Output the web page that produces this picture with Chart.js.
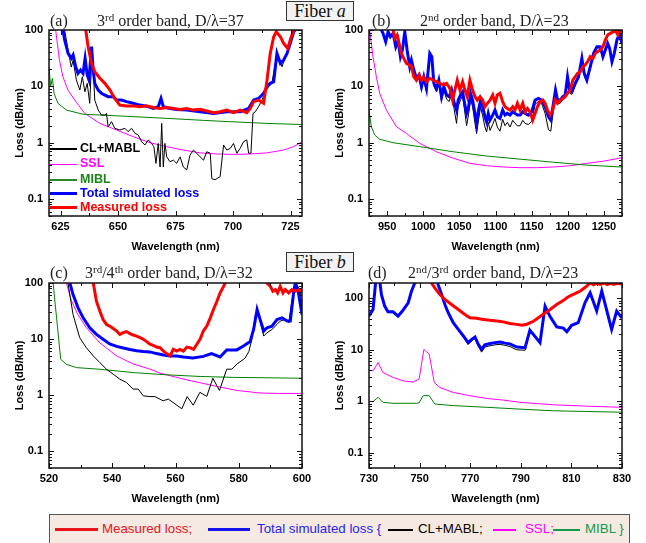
<!DOCTYPE html>
<html>
<head>
<meta charset="utf-8">
<script src="https://cdn.jsdelivr.net/npm/chart.js@4.4.1/dist/chart.umd.min.js"></script>
<style>
  body { margin: 0; }
  #page { position: relative; width: 646px; height: 543px; background: #fff; overflow: hidden; font-family: "Liberation Sans", Arial, sans-serif; }
  canvas { position: absolute; }
  .ttl { position: absolute; font-family: "Liberation Serif", "Times New Roman", serif; font-size: 16px; line-height: 16px; white-space: nowrap; color: #222; }
  .ttl sup { font-size: 11px; vertical-align: 5px; line-height: 0; }
  .fiber { position: absolute; width: 66px; height: 18px; border: 1px solid #333; background: #f2f2f2; font-family: "Liberation Serif", "Times New Roman", serif; font-size: 18px; line-height: 18px; text-align: center; color: #111; }
  .ln { position: absolute; }
  .lt { position: absolute; white-space: nowrap; }
  .il { font-weight: bold; font-size: 12.5px; line-height: 15px; }
  .bl { font-size: 13.3px; line-height: 16px; }
  #legbox { position: absolute; left: 49px; top: 514px; width: 579px; height: 40px; border: 1.5px solid #555; background: #f6e9e2; }
</style>
</head>
<body>
<div id="page">
  <canvas id="ca" width="320" height="260" style="left:0;top:0"></canvas>
  <canvas id="cb" width="320" height="260" style="left:320px;top:0"></canvas>
  <canvas id="cc" width="320" height="260" style="left:0;top:252px"></canvas>
  <canvas id="cd" width="320" height="260" style="left:320px;top:252px"></canvas>

  <div class="ttl" style="left:50px;top:13px">(a)</div>
  <div class="ttl" style="left:97px;top:13px">3<sup>rd</sup> order band, D/λ=37</div>
  <div class="ttl" style="left:372px;top:13px">(b)</div>
  <div class="ttl" style="left:420px;top:13px">2<sup>nd</sup> order band, D/λ=23</div>
  <div class="ttl" style="left:50px;top:265px">(c)</div>
  <div class="ttl" style="left:85px;top:265px">3<sup>rd</sup>/4<sup>th</sup> order band, D/λ=32</div>
  <div class="ttl" style="left:368px;top:265px">(d)</div>
  <div class="ttl" style="left:408px;top:265px">2<sup>nd</sup>/3<sup>rd</sup> order band, D/λ=23</div>

  <div class="fiber" style="left:286px;top:1px">Fiber <i>a</i></div>
  <div class="fiber" style="left:286px;top:252px">Fiber <i>b</i></div>

  <!-- legend inside panel (a) -->
  <div class="ln" style="left:50px;top:148px;width:27px;height:2px;background:#000"></div>
  <div class="lt il" style="left:80px;top:141px;color:#000">CL+MABL</div>
  <div class="ln" style="left:50px;top:164px;width:27px;height:1px;background:#ff00ff"></div>
  <div class="lt il" style="left:80px;top:156px;color:#ff00ff">SSL</div>
  <div class="ln" style="left:50px;top:179px;width:27px;height:1.5px;background:#2a8a2a"></div>
  <div class="lt il" style="left:80px;top:171.5px;color:#1a861a">MIBL</div>
  <div class="ln" style="left:50px;top:192px;width:27px;height:3px;background:#0000ff"></div>
  <div class="lt il" style="left:80px;top:186px;color:#0000ff">Total simulated loss</div>
  <div class="ln" style="left:50px;top:206px;width:27px;height:3px;background:#ff0000"></div>
  <div class="lt il" style="left:80px;top:200px;color:#ff0000">Measured loss</div>

  <!-- bottom legend -->
  <div id="legbox"></div>
  <div class="ln" style="left:55px;top:528px;width:43px;height:3px;background:#e8131b"></div>
  <div class="lt bl" style="left:102px;top:521px;color:#e8131b">Measured loss;</div>
  <div class="ln" style="left:208px;top:528px;width:42px;height:3px;background:#1414f0"></div>
  <div class="lt bl" style="left:257px;top:521px;color:#2424f0">Total simulated loss {</div>
  <div class="ln" style="left:388px;top:529px;width:25px;height:2px;background:#000"></div>
  <div class="lt bl" style="left:418px;top:521px;color:#000">CL+MABL;</div>
  <div class="ln" style="left:493px;top:529px;width:23px;height:2px;background:#ff00ff"></div>
  <div class="lt bl" style="left:525px;top:521px;color:#ff00ff">SSL;</div>
  <div class="ln" style="left:553px;top:529px;width:27px;height:2px;background:#139a48"></div>
  <div class="lt bl" style="left:585px;top:521px;color:#139a48">MIBL }</div>
</div>

<script>
// ---- data: [wavelength (nm), loss (dB/km)] ----

// (a) Fiber a, 3rd order band
const measuredA = [[634.5,200],[636.0,100],[637.0,50.6],[638.5,25.6],[639.9,18.2],[642.1,13.9],[644.3,11.3],[646.5,8.6],[648.6,6.1],[650.8,4.65],[653.7,4.5],[656.6,4.5],[659.5,4.35],[662.4,4.5],[665.3,4.2],[668.3,4.06],[671.2,4.2],[674.1,4.06],[677.0,3.9],[679.9,4.06],[682.8,3.79],[685.7,3.9],[688.6,3.65],[691.5,3.4],[694.4,3.54],[697.3,3.79],[700.2,3.4],[703.1,3.79],[706.0,3.4],[707.5,4.06],[709.0,5.35],[711.1,5.7],[713.3,5.0],[714.8,12.9],[716.2,38.5],[717.7,76],[718.8,93],[720.6,76],[722.0,58],[723.8,47.3],[724.9,66.5],[726.4,100],[727.8,130]];
const totalA = [[625.3,200],[626.1,100],[626.8,66.5],[628.3,38.5],[629.7,31.4],[630.5,36],[631.6,22.3],[632.6,17],[633.7,19.5],[634.8,17],[635.7,31.4],[636.6,15.9],[637.4,12.9],[638.5,50.6],[639.2,19.5],[639.9,11.3],[641.4,8.6],[642.8,7.5],[644.3,7.0],[645.7,6.55],[647.9,6.55],[649.4,5.7],[651.5,5.7],[653.7,5.35],[656.6,5.0],[659.5,4.65],[662.4,4.45],[665.3,4.06],[667.5,4.35],[668.7,6.1],[669.7,4.35],[672.6,4.06],[675.5,3.9],[679.9,3.79],[685.7,3.54],[691.5,3.31],[697.3,3.54],[703.1,3.54],[706.8,4.06],[709.0,5.7],[711.1,6.1],[713.3,7.5],[714.8,9.9],[716.2,11.3],[717.7,12.1],[719.1,38.5],[720.6,25.6],[722.0,29.3],[723.5,38.5],[724.9,58],[726.4,93],[727.0,100],[727.8,120]];
const clmablA = [[626.3,200],[626.8,100],[628.3,44],[629.0,31],[629.7,22],[630.5,29],[631.9,13],[633.4,8.6],[634.5,14.8],[635.6,8.0],[636.6,11.3],[637.7,5.0],[638.8,50],[639.9,5.7],[641.4,3.8],[642.8,3.1],[644.3,3.1],[645.0,3.3],[645.7,1.9],[647.2,2.36],[648.6,1.8],[650.8,1.68],[653.0,1.8],[654.4,1.57],[655.9,1.8],[657.4,1.46],[658.8,1.37],[660.3,1.04],[661.7,0.91],[663.2,1.12],[664.6,0.97],[665.6,0.85],[666.5,0.43],[667.5,0.97],[668.3,0.37],[669.0,2.2],[669.7,0.37],[670.4,0.97],[671.2,0.56],[672.6,0.46],[674.1,0.49],[675.5,0.43],[677.0,0.56],[678.4,0.37],[679.9,0.33],[681.3,0.60],[682.8,0.74],[684.2,0.65],[685.7,0.56],[687.2,0.49],[688.6,0.69],[690.1,0.65],[690.8,0.23],[692.2,0.22],[694.4,0.25],[695.9,0.91],[697.3,0.74],[698.8,0.79],[700.2,0.97],[701.7,0.65],[703.1,0.79],[704.6,1.04],[706.0,1.12],[706.8,0.65],[707.8,0.65],[708.7,3.3],[709.7,3.54],[711.1,4.35],[712.6,5.7],[714.0,8.0],[715.5,9.9],[716.9,11.3],[718.4,25.6],[719.9,33.6],[721.3,22.3],[722.8,33.6],[724.2,50.6],[725.7,87],[726.4,100],[727.8,130]];
const miblA = [[620.0,22.3],[620.7,9.9],[621.5,13.9],[622.2,7.5],[623.9,5.0],[627.6,3.79],[634.8,3.2],[649.4,3.0],[671.2,2.7],[693.0,2.42],[714.8,2.2],[730.0,2.1]];
const sslA = [[622.3,200],[622.9,100],[624.5,30],[626.0,15],[628.3,8.5],[631.9,5.2],[635.6,3.3],[642.1,2.2],[649.4,1.68],[656.6,1.28],[663.9,1.0],[671.2,0.85],[678.4,0.74],[685.7,0.66],[693.0,0.63],[700.2,0.62],[707.5,0.63],[714.8,0.66],[722.0,0.74],[726.4,0.85],[730.0,1.04]];

// (b) Fiber a, 2nd order band
const measuredB = [[956.0,130],[958.3,100],[960.6,71],[963.8,81.5],[966.6,58],[969.8,38.5],[973.1,31.4],[976.8,25.6],[980.5,23.9],[983.7,22.3],[987.0,14.8],[990.6,12.9],[994.3,15.9],[997.6,12.9],[1000.8,14.8],[1004.5,12.1],[1009.1,13.9],[1013.8,12.9],[1018.4,12.1],[1023.0,11.3],[1027.6,10.6],[1032.3,11.3],[1036.9,9.2],[1040.6,5.7],[1043.8,8.6],[1047.1,12.9],[1050.8,8.6],[1054.5,12.1],[1057.7,8.6],[1060.9,6.55],[1064.6,12.9],[1068.3,8.6],[1071.6,6.55],[1074.8,5.7],[1078.5,6.55],[1082.2,5.7],[1085.4,4.35],[1088.7,5.0],[1092.4,5.7],[1096.1,7.0],[1099.3,5.0],[1102.5,7.0],[1106.2,7.5],[1109.9,5.35],[1113.2,4.35],[1116.4,4.06],[1120.1,3.79],[1123.8,4.35],[1127.0,3.79],[1130.3,5.0],[1134.0,3.79],[1137.7,5.0],[1140.9,3.54],[1144.1,4.06],[1147.8,3.54],[1151.5,2.52],[1154.8,3.31],[1158.0,4.35],[1161.7,5.35],[1165.4,5.7],[1168.6,5.0],[1171.9,3.79],[1175.6,3.09],[1179.3,3.79],[1182.5,5.7],[1185.8,5.0],[1189.5,5.7],[1193.2,6.1],[1196.4,6.55],[1199.6,7.5],[1203.3,8.6],[1207.0,12.9],[1210.2,14.8],[1213.5,17],[1217.2,18.2],[1220.9,22.3],[1224.1,23.9],[1227.4,27.4],[1231.1,33.6],[1234.8,31.4],[1238.0,38.5],[1241.2,41.3],[1244.9,44.2],[1248.6,50.6],[1251.9,66.5],[1255.1,81.5],[1258.8,87],[1262.5,93],[1265.7,100],[1269.4,81.5],[1272.7,100],[1275.0,110]];
const totalB = [[940.0,130],[942.1,100],[944.4,87],[948.1,62],[951.4,93],[954.6,76],[958.3,87],[962.0,50.6],[965.2,66.5],[968.5,33.6],[971.2,44.2],[974.5,93],[977.7,44.2],[981.4,22.3],[983.7,29.3],[987.0,19.5],[990.6,13.9],[994.3,15.9],[997.6,9.9],[1000.8,14.8],[1004.5,9.2],[1009.1,38.5],[1011.9,33.6],[1014.7,11.3],[1018.4,9.2],[1021.6,12.9],[1025.3,6.55],[1028.6,9.9],[1032.3,7.0],[1036.0,6.55],[1039.2,8.6],[1042.4,5.35],[1046.1,3.79],[1048.4,5.7],[1051.7,7.0],[1054.5,8.0],[1057.2,5.0],[1060.0,3.31],[1062.8,4.35],[1065.5,7.5],[1068.3,5.7],[1071.6,3.31],[1073.9,2.2],[1076.6,3.79],[1079.4,5.7],[1082.2,4.35],[1085.4,2.89],[1087.7,2.36],[1090.0,3.31],[1092.4,2.52],[1096.1,3.09],[1099.3,3.79],[1102.5,2.89],[1106.2,2.7],[1109.9,3.79],[1113.2,3.09],[1116.4,3.31],[1120.1,3.09],[1123.8,3.54],[1127.0,3.31],[1130.3,3.09],[1134.0,3.09],[1137.7,3.54],[1140.9,3.31],[1145.5,3.09],[1150.2,3.54],[1154.8,5.7],[1159.4,6.1],[1164.0,5.7],[1168.6,4.35],[1173.3,2.89],[1176.5,2.52],[1180.2,5.0],[1183.0,8.6],[1185.8,5.7],[1189.5,5.7],[1193.2,6.55],[1196.4,7.0],[1199.6,14.8],[1202.4,8.6],[1205.6,8.0],[1210.2,11.3],[1214.9,14.8],[1219.5,31.4],[1222.7,17],[1226.4,12.9],[1231.1,22.3],[1235.7,38.5],[1240.3,50.6],[1244.9,50.6],[1248.6,33.6],[1251.9,44.2],[1255.1,58],[1257.9,47.3],[1261.1,27.4],[1264.3,38.5],[1268.0,66.5],[1271.7,87],[1275.0,58]];
const clmablB = [[940.0,130],[942.1,100],[944.4,85],[948.1,58],[951.4,90],[954.6,72],[958.3,84],[962.0,47],[965.2,63],[968.5,31],[971.2,41],[974.5,90],[977.7,41],[981.4,20],[983.7,27],[987.0,17.5],[990.6,12.3],[994.3,14],[997.6,8.6],[1000.8,13],[1004.5,8.0],[1009.1,36],[1011.9,31],[1014.7,10],[1018.4,8.0],[1021.6,11.5],[1025.3,5.5],[1028.6,8.6],[1032.3,5.9],[1036.0,5.4],[1039.2,7.4],[1042.4,4.2],[1046.1,2.2],[1048.4,4.4],[1051.7,5.8],[1054.5,6.8],[1057.2,3.8],[1060.0,2.0],[1062.8,3.2],[1065.5,6.0],[1068.3,4.4],[1071.6,2.2],[1073.9,1.45],[1076.6,2.6],[1079.4,4.3],[1082.2,3.0],[1085.4,1.9],[1087.7,1.55],[1090.0,2.3],[1092.4,1.65],[1096.1,2.1],[1099.3,2.7],[1102.5,1.9],[1106.2,1.6],[1109.9,2.6],[1113.2,2.0],[1116.4,2.3],[1120.1,1.9],[1123.8,2.5],[1127.0,2.2],[1130.3,2.0],[1134.0,2.0],[1137.7,2.5],[1140.9,2.2],[1145.5,2.1],[1150.2,2.4],[1154.8,4.8],[1159.4,5.4],[1164.0,4.9],[1168.6,3.3],[1173.3,1.7],[1176.5,1.6],[1180.2,4.0],[1183.0,7.4],[1185.8,4.9],[1189.5,5.0],[1193.2,5.8],[1196.4,6.2],[1199.6,13.5],[1202.4,7.6],[1205.6,7.2],[1210.2,10.3],[1214.9,13.6],[1219.5,29],[1222.7,15.6],[1226.4,11.8],[1231.1,20.5],[1235.7,36],[1240.3,48],[1244.9,48],[1248.6,31],[1251.9,42],[1255.1,55],[1257.9,45],[1261.1,25.5],[1264.3,36],[1268.0,63],[1271.7,83],[1275.0,55]];
const miblB = [[925.0,3.79],[928.2,1.92],[932.9,1.37],[939.8,1.15],[958.3,1.0],[995.3,0.85],[1041.5,0.69],[1087.7,0.58],[1134.0,0.51],[1180.2,0.45],[1226.4,0.40],[1275.0,0.37]];
const sslB = [[925.0,130],[925.9,100],[930.5,33.6],[935.2,14.8],[939.8,7.5],[949.1,3.79],[962.9,1.92],[976.8,1.46],[995.3,0.97],[1018.4,0.69],[1041.5,0.53],[1064.6,0.43],[1087.7,0.39],[1110.9,0.37],[1134.0,0.36],[1157.1,0.36],[1180.2,0.37],[1203.3,0.39],[1226.4,0.43],[1249.5,0.47],[1275.0,0.54]];

// (c) Fiber b, 3rd/4th order band
const measuredC = [[533.0,200],[534.0,100],[535.0,47.3],[536.1,31.4],[537.1,22.3],[538.2,18.2],[539.2,17],[540.3,15.4],[541.4,13.9],[542.4,12.1],[543.5,13],[544.5,13.6],[545.6,12.5],[546.6,11.8],[547.7,11.3],[548.8,10.6],[549.8,9.9],[550.9,9.0],[551.9,8.1],[553.0,7.7],[554.0,7.2],[555.1,7.0],[556.2,6.1],[557.2,5.5],[558.3,5.0],[559.3,6.55],[560.4,6.1],[561.4,6.55],[562.5,6.1],[563.6,7.2],[564.6,7.0],[565.7,6.55],[566.7,8.0],[567.8,10.0],[568.8,13.9],[569.9,17],[571.0,23.9],[572.0,33.6],[573.1,47.3],[574.1,66.5],[575.2,87],[575.7,100],[577.0,250],[588.0,250],[588.9,100],[590.0,87.3],[590.8,71.1],[591.6,76.2],[592.3,66.5],[593.1,87.3],[594.0,66.5],[594.7,76.2],[595.8,66.5],[596.8,76.2],[597.9,71.1],[599.0,76.2],[600.0,71.1]];
const totalC = [[526.0,200],[526.6,100],[527.6,62],[529.2,36],[530.8,23.9],[532.9,15.9],[535.0,12.1],[537.1,9.9],[539.2,8.2],[541.4,7.4],[543.5,6.9],[545.6,6.5],[547.7,6.2],[549.8,6.0],[551.9,5.9],[554.0,5.5],[556.2,5.2],[558.3,5.0],[560.4,5.0],[562.5,4.8],[565.5,4.6],[568.8,4.9],[571.4,5.5],[574.1,4.8],[576.2,6.4],[579.4,6.4],[581.5,7.5],[583.6,9.0],[584.7,14.8],[585.8,33.6],[586.6,23.9],[587.9,13.9],[588.9,15.9],[590.5,17],[592.1,22.3],[593.7,23.9],[595.3,20.9],[596.3,20.9],[597.4,71],[597.9,100],[598.8,71],[599.5,41],[600.0,27.4]];
const clmablC = [[525.5,200],[526.0,100],[527.6,27.4],[529.7,10.6],[531.8,7.0],[534.0,5.0],[536.1,3.79],[538.2,2.89],[540.3,2.36],[542.4,1.92],[544.5,1.68],[546.6,1.28],[548.2,1.28],[549.8,0.97],[551.9,0.94],[553.5,0.94],[556.1,0.79],[557.7,0.85],[562.0,0.57],[563.7,0.94],[565.6,0.66],[567.7,1.12],[569.9,0.95],[571.8,2.0],[573.9,1.21],[576.2,2.9],[577.8,2.9],[579.5,3.6],[582.0,4.57],[583.2,6.0],[584.1,9.7],[585.2,25.6],[586.0,31.4],[586.6,22.3],[587.9,11.3],[588.9,12.9],[590.5,14.8],[592.1,18.2],[593.1,20.9],[594.7,22.3],[595.8,19.5],[596.8,47.3],[597.9,100],[598.4,93],[599.5,71],[600.0,31.4]];
const miblC = [[520.0,250],[521.3,100],[523.7,4.35],[525.5,3.54],[528.7,3.09],[536.1,2.89],[546.6,2.52],[557.2,2.3],[567.8,2.15],[578.4,2.07],[600.0,2.0]];
const sslC = [[524.5,200],[525.5,100],[527.0,50],[529.0,28],[531.8,16],[536.1,8.5],[541.4,5.0],[546.6,3.6],[551.9,2.91],[555.1,2.47],[562.5,1.93],[573.0,1.43],[579.4,1.21],[586.7,1.09],[593.0,1.07],[600.0,1.07]];

// (d) Fiber b, 2nd/3rd order band
const measuredD = [[753.0,400],[754.7,201],[756.0,161],[758.0,120],[760.0,95.6],[762.6,76.5],[765.3,61.2],[767.9,48.9],[769.9,42.2],[772.5,41],[775.2,39.1],[777.8,37.5],[780.5,36.3],[783.1,35],[785.7,32.5],[788.4,31.3],[790.4,30],[792.4,31.5],[795.0,36],[797.5,44],[799.0,50],[801.6,61],[804.2,76],[806.9,92],[808.2,103],[809.5,112],[812.2,130],[813.4,138],[815.5,165],[817.4,200],[818.8,185],[820.0,198],[821.4,188],[823.0,200],[824.1,186],[825.5,197],[826.7,188],[828.0,198],[830.0,190]];
const totalD = [[730.0,45.4],[731.6,61.2],[732.6,201],[733.6,400],[734.9,120],[736.2,71],[737.5,55],[739.5,55],[741.5,45.4],[743.2,56.8],[745.5,82.4],[746.8,139],[748.1,201],[748.8,340],[756.0,300],[757.3,187],[758.7,120],[760.0,76.5],[761.3,52.7],[763.3,33.7],[765.3,25.0],[767.3,18.6],[769.2,13.8],[770.6,16.0],[771.9,17.8],[773.2,12.8],[774.5,10.2],[775.8,12.5],[777.8,13.3],[779.8,13.8],[781.8,14.2],[783.8,13.5],[785.7,13.0],[788.4,11.3],[791.7,11.0],[793.6,24.2],[797.6,13.8],[799.6,71],[801.5,45],[804.2,28],[806.8,26.5],[808.2,22.5],[810.1,30],[812.7,33.7],[815.4,83],[817.4,129],[820.0,57],[822.0,139],[825.9,25],[827.9,57],[829.9,42]];
const clmablD = [[730.0,44],[731.6,60],[732.6,201],[733.6,400],[734.9,118],[736.2,69],[737.5,53],[739.5,53],[741.5,44],[743.2,55],[745.5,80],[746.8,135],[748.1,201],[748.8,340],[756.0,300],[757.3,185],[758.7,118],[760.0,74],[761.3,51],[763.3,32.5],[765.3,24],[767.3,17.6],[769.2,12.8],[770.6,15.0],[771.9,16.6],[773.2,11.8],[774.5,9.0],[775.8,11.3],[777.8,12.0],[779.8,12.5],[781.8,12.8],[783.8,12.2],[785.7,11.6],[788.4,10.0],[791.7,9.8],[793.6,23],[797.6,13.2],[799.6,69],[801.5,44],[804.2,27.3],[806.8,25.8],[808.2,21.9],[810.1,29.2],[812.7,32.8],[815.4,81],[817.4,126],[820.0,55.5],[822.0,136],[825.9,24.3],[827.9,55.5],[829.9,41]];
const miblD = [[730.0,0.99],[731.6,0.98],[733.6,1.19],[735.5,0.95],[739.5,0.91],[748.8,0.91],[749.8,0.93],[751.4,1.28],[753.8,1.28],[756.0,0.88],[763.3,0.82],[776.5,0.76],[789.7,0.70],[802.9,0.65],[816.1,0.63],[830.0,0.61]];
const sslD = [[730.0,4.02],[731.6,3.9],[733.6,5.65],[735.5,3.6],[739.5,2.9],[743.5,2.49],[747.4,2.35],[749.8,2.69],[751.7,10.2],[753.8,8.2],[755.8,2.32],[758.0,1.85],[763.3,1.48],[769.9,1.28],[776.5,1.13],[783.1,1.05],[789.7,0.95],[802.9,0.85],[816.1,0.80],[830.0,0.76]];

// tick labels
const xTicksA = [625, 650, 675, 700, 725];
const xTicksB = [950, 1000, 1050, 1100, 1150, 1200, 1250];
const xTicksC = [520, 540, 560, 580, 600];
const xTicksD = [730, 750, 770, 790, 810, 830];
const yTicks = [0.1, 1, 10, 100];

// ---- drawing ----
const sans = '"Liberation Sans", Arial, sans-serif';
const boldFont = { family: sans, size: 11, weight: 'bold' };

// frame with inward ticks, like the original plots
const frame = {
  id: 'frame',
  afterDatasetsDraw(chart) {
    const { ctx, chartArea: a, scales } = chart;
    const xs = scales.x, ys = scales.y;
    ctx.save();
    ctx.strokeStyle = '#111';
    ctx.lineWidth = 1;
    ctx.beginPath();
    for (let e = -2; e <= 3; e++) {
      for (let m = 1; m < 10; m++) {
        const v = m * Math.pow(10, e);
        if (v < ys.min * 0.999 || v > ys.max * 1.001) continue;
        const py = Math.round(ys.getPixelForValue(v)) + 0.5;
        const len = m === 1 ? 5 : 3;
        ctx.moveTo(a.left, py); ctx.lineTo(a.left + len, py);
        ctx.moveTo(a.right, py); ctx.lineTo(a.right - len, py);
      }
    }
    const t = xs.ticks.map(k => k.value);
    const step = t[1] - t[0];
    const marks = [];
    t.forEach(v => { marks.push([v, 5], [v + step / 2, 3], [v - step / 2, 3]); });
    marks.forEach(([v, len]) => {
      if (v < xs.min || v > xs.max) return;
      const px = Math.round(xs.getPixelForValue(v)) + 0.5;
      ctx.moveTo(px, a.bottom); ctx.lineTo(px, a.bottom - len);
      ctx.moveTo(px, a.top); ctx.lineTo(px, a.top + len);
    });
    ctx.stroke();
    ctx.lineWidth = 1.5;
    ctx.strokeRect(a.left, a.top, a.right - a.left, a.bottom - a.top);
    ctx.restore();
  }
};

const pts = arr => arr.map(p => ({ x: p[0], y: p[1] }));

function line(data, color, width) {
  return { data: pts(data), borderColor: color, borderWidth: width, pointRadius: 0, tension: 0, fill: false, clip: 0 };
}

function panel(id, top, xMin, xMax, xTicks, yMax, s) {
  new Chart(document.getElementById(id), {
    type: 'line',
    data: {
      datasets: [
        line(s.measured, '#ff0000', 3),
        line(s.total, '#0000ff', 3),
        line(s.clmabl, '#000000', 1),
        line(s.mibl, '#008000', 1),
        line(s.ssl, '#ff00ff', 1)
      ]
    },
    options: {
      responsive: false,
      animation: false,
      devicePixelRatio: 1,
      layout: { padding: { left: 0, top: top, right: 18, bottom: 0 } },
      plugins: { legend: { display: false }, tooltip: { enabled: false } },
      scales: {
        x: {
          type: 'linear', min: xMin, max: xMax,
          afterFit: sc => { sc.height = 44; },
          afterBuildTicks: sc => { sc.ticks = xTicks.map(v => ({ value: v })); },
          grid: { display: false, drawTicks: false },
          border: { display: false },
          ticks: { font: boldFont, color: '#000', padding: 4, maxRotation: 0, autoSkip: false, callback: v => String(v) },
          title: { display: true, text: 'Wavelength (nm)', font: boldFont, color: '#000', padding: { top: 0, bottom: 6 } }
        },
        y: {
          type: 'logarithmic', min: 0.05, max: yMax,
          afterFit: sc => { sc.width = 49; },
          afterBuildTicks: sc => { sc.ticks = yTicks.map(v => ({ value: v })); },
          grid: { display: false, drawTicks: false },
          border: { display: false },
          ticks: { font: boldFont, color: '#000', padding: 6, callback: v => String(v) },
          title: { display: true, text: 'Loss (dB/km)', font: boldFont, color: '#000', padding: { top: 13, bottom: 0 } }
        }
      }
    },
    plugins: [frame]
  });
}

panel('ca', 30, 620, 730, xTicksA, 100, { measured: measuredA, total: totalA, clmabl: clmablA, mibl: miblA, ssl: sslA });
panel('cb', 30, 925, 1275, xTicksB, 100, { measured: measuredB, total: totalB, clmabl: clmablB, mibl: miblB, ssl: sslB });
panel('cc', 31, 520, 600, xTicksC, 100, { measured: measuredC, total: totalC, clmabl: clmablC, mibl: miblC, ssl: sslC });
panel('cd', 31, 730, 830, xTicksD, 200, { measured: measuredD, total: totalD, clmabl: clmablD, mibl: miblD, ssl: sslD });
</script>
</body>
</html>
